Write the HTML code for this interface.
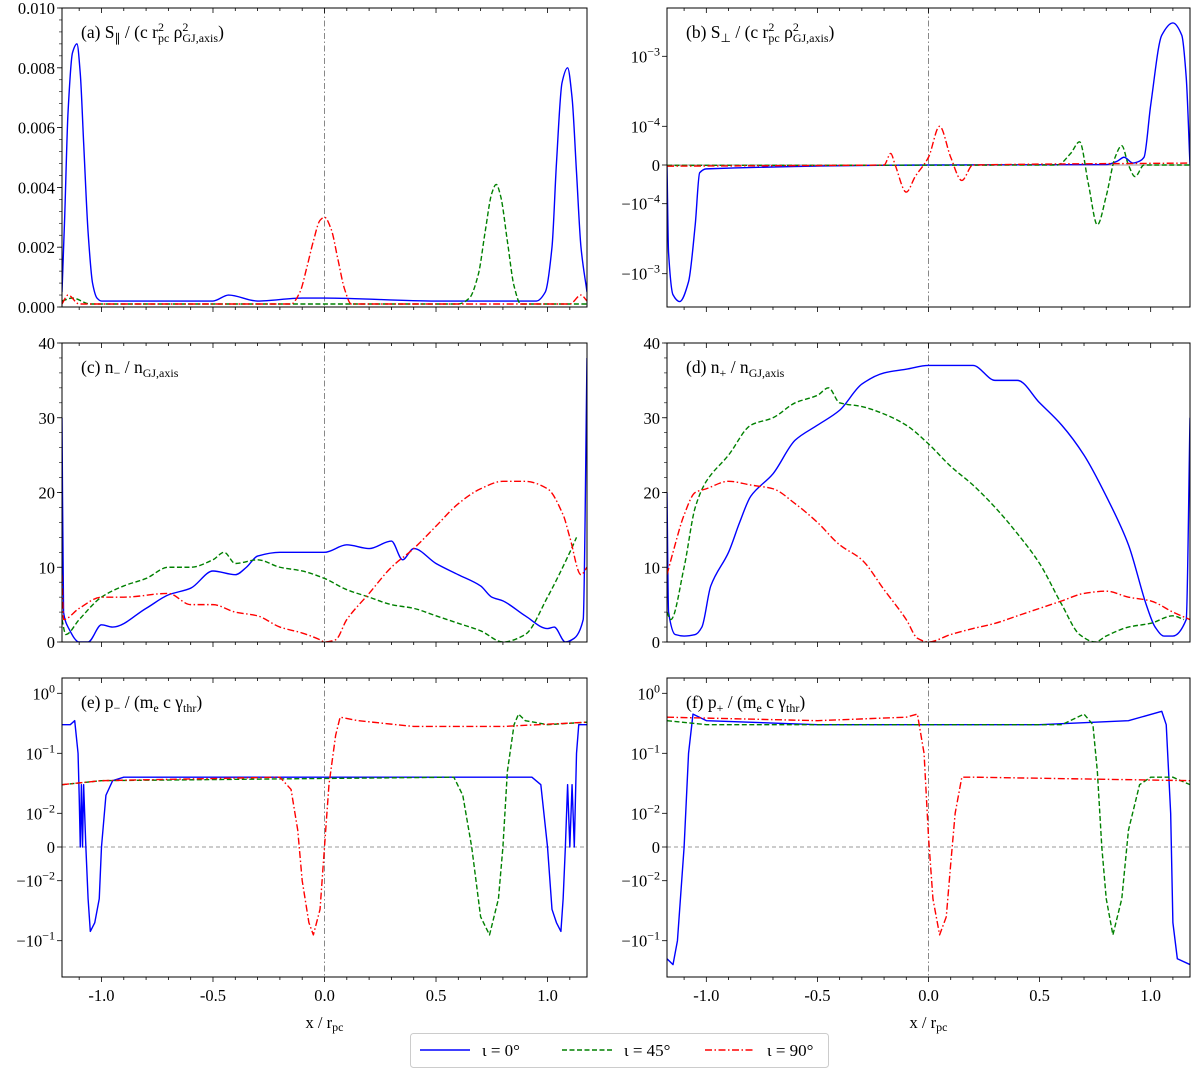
<!DOCTYPE html>
<html><head><meta charset="utf-8"><style>
body{margin:0;background:#fff}
svg{display:block;font-family:"Liberation Serif",serif}
</style></head><body>
<svg id="fig" width="1200" height="1069" viewBox="0 0 1200 1069" xmlns="http://www.w3.org/2000/svg"></svg>
<script>
// ---- data: [x, value] pairs per series ----
const aBlue=[[-1.177,0.0005],[-1.165,0.003],[-1.15,0.0065],[-1.13,0.0085],[-1.11,0.0088],[-1.095,0.0078],[-1.08,0.0055],[-1.06,0.0025],[-1.04,0.0008],[-1.02,0.0003],[-1.0,0.0002],[-0.5,0.0002],[-0.43,0.0004],[-0.3,0.0002],[-0.1,0.0003],[0,0.0003],[0.5,0.0002],[0.95,0.0002],[0.99,0.0005],[1.02,0.002],[1.04,0.0048],[1.065,0.0075],[1.09,0.008],[1.11,0.007],[1.13,0.0045],[1.15,0.002],[1.177,0.0005]];
const aGreen=[[-1.177,0.0002],[-1.13,0.0003],[-1.05,0.0001],[0.6,0.0001],[0.65,0.0003],[0.69,0.0011],[0.72,0.0025],[0.75,0.0038],[0.77,0.0041],[0.79,0.0037],[0.82,0.0022],[0.85,0.0007],[0.88,0.0001],[1.177,0.0001]];
const aRed=[[-1.177,0.0001],[-1.15,0.0004],[-1.1,0.0001],[-0.15,0.0001],[-0.11,0.0005],[-0.08,0.0013],[-0.05,0.0022],[-0.02,0.0029],[0,0.003],[0.03,0.0026],[0.06,0.0016],[0.09,0.0006],[0.12,0.0001],[1.1,0.0001],[1.15,0.0004],[1.177,0.0002]];
const bBlue=[[-1.177,0],[-1.17,-5e-4],[-1.15,-2e-3],[-1.12,-2.5e-3],[-1.08,-1.3e-3],[-1.05,-2e-4],[-1.03,-2e-5],[-1.0,-1e-5],[0,0],[0.8,1e-6],[0.85,1e-5],[0.88,2e-5],[0.92,5e-6],[0.95,1e-5],[0.97,2e-5],[1.0,2e-4],[1.05,2e-3],[1.1,3e-3],[1.14,2e-3],[1.16,5e-4],[1.177,0]];
const bGreen=[[-1.177,-1e-6],[0.58,0],[0.64,3e-5],[0.68,6e-5],[0.72,-5e-5],[0.76,-2e-4],[0.8,-8e-5],[0.84,2e-5],[0.87,5e-5],[0.9,0],[0.93,-3e-5],[0.97,0],[1.177,0]];
const bRed=[[-1.177,-3e-6],[-0.2,0],[-0.17,3e-5],[-0.15,0],[-0.1,-7e-5],[-0.06,-3e-5],[0,2e-5],[0.05,1e-4],[0.1,2e-5],[0.15,-4e-5],[0.2,0],[1.177,5e-6]];
const cBlue=[[-1.177,30],[-1.17,4],[-1.15,2],[-1.1,0],[-1.06,0],[-1.0,2.3],[-0.95,2],[-0.8,4.5],[-0.7,6.3],[-0.6,7.2],[-0.5,9.5],[-0.4,9],[-0.35,10],[-0.3,11.5],[-0.2,12],[-0.1,12],[0,12],[0.1,13],[0.2,12.5],[0.3,13.5],[0.35,11],[0.4,12.5],[0.5,10.5],[0.6,9],[0.7,7.5],[0.75,6],[0.8,5.5],[0.9,3.5],[1.0,1.8],[1.03,2],[1.08,0],[1.12,0.5],[1.16,3],[1.177,38]];
const cGreen=[[-1.177,3],[-1.16,1],[-1.1,3],[-1.0,6],[-0.9,7.5],[-0.8,8.5],[-0.7,10],[-0.6,10],[-0.5,11],[-0.45,12],[-0.4,10.5],[-0.3,11],[-0.2,10],[-0.1,9.5],[0,8.5],[0.1,7],[0.2,6],[0.3,5],[0.4,4.5],[0.5,3.5],[0.6,2.5],[0.7,1.5],[0.8,0],[0.9,1],[1.0,6],[1.1,12],[1.13,14]];
const cRed=[[-1.177,9],[-1.17,3],[-1.1,4.5],[-1.0,6],[-0.9,6],[-0.7,6.5],[-0.6,5],[-0.5,5],[-0.4,4],[-0.3,3.5],[-0.2,2],[-0.1,1.2],[-0.02,0.3],[0,0],[0.05,0.3],[0.1,3],[0.2,6.5],[0.3,10],[0.4,12.5],[0.5,15.5],[0.6,18.5],[0.7,20.5],[0.8,21.5],[0.9,21.5],[1.0,20.5],[1.07,17],[1.1,14],[1.15,9],[1.177,10]];
const dBlue=[[-1.177,20],[-1.17,4],[-1.14,1],[-1.1,0.8],[-1.05,1],[-1.02,2],[-0.98,7.5],[-0.9,12],[-0.85,16],[-0.8,19.5],[-0.7,22.5],[-0.6,27],[-0.5,29],[-0.4,31],[-0.3,34.5],[-0.2,36],[-0.1,36.5],[0,37],[0.1,37],[0.2,37],[0.3,35],[0.4,35],[0.5,32],[0.6,29],[0.7,25],[0.8,19.5],[0.9,13],[0.98,5],[1.02,2],[1.06,0.8],[1.1,0.8],[1.16,3],[1.177,30]];
const dGreen=[[-1.177,4],[-1.16,3],[-1.1,10],[-1.05,18],[-1.0,21.5],[-0.9,25],[-0.8,29],[-0.7,30],[-0.6,32],[-0.5,33],[-0.45,34],[-0.4,32],[-0.3,31.5],[-0.2,30.5],[-0.1,29],[0,26.5],[0.1,23.5],[0.2,21],[0.3,18],[0.4,14.5],[0.5,10.5],[0.6,5],[0.68,1],[0.75,0],[0.8,0.8],[0.9,2],[1.0,2.5],[1.1,3.5],[1.15,3]];
const dRed=[[-1.177,9],[-1.15,12],[-1.1,17],[-1.05,20],[-1.0,20.5],[-0.9,21.5],[-0.8,21],[-0.7,20.5],[-0.6,18.5],[-0.5,16],[-0.4,13],[-0.3,11],[-0.2,7],[-0.1,3],[-0.05,0.5],[0,0],[0.1,1],[0.2,1.8],[0.3,2.5],[0.4,3.5],[0.5,4.5],[0.6,5.5],[0.7,6.5],[0.8,6.8],[0.9,6],[1.0,5.5],[1.1,4],[1.177,3]];
const eBlue=[[-1.177,0.3],[-1.14,0.3],[-1.12,0.35],[-1.105,0.1],[-1.1,0.02],[-1.095,0],[-1.09,0.03],[-1.085,0],[-1.08,0.03],[-1.07,0],[-1.06,-0.02],[-1.05,-0.07],[-1.03,-0.05],[-1.01,-0.02],[-1.0,0],[-0.98,0.02],[-0.95,0.035],[-0.9,0.04],[-0.5,0.04],[0,0.04],[0.5,0.04],[0.93,0.04],[0.97,0.03],[1.0,0],[1.02,-0.03],[1.04,-0.05],[1.06,-0.07],[1.07,-0.02],[1.08,0],[1.09,0.03],[1.1,0],[1.11,0.03],[1.12,0],[1.13,0.1],[1.14,0.3],[1.16,0.3],[1.177,0.3]];
const eGreen=[[-1.177,0.03],[-1.0,0.035],[0.58,0.04],[0.62,0.02],[0.66,0],[0.7,-0.04],[0.74,-0.08],[0.78,-0.02],[0.8,0],[0.82,0.05],[0.85,0.3],[0.87,0.45],[0.9,0.35],[1.0,0.3],[1.177,0.33]];
const eRed=[[-1.177,0.03],[-1.0,0.035],[-0.2,0.04],[-0.15,0.025],[-0.12,0.005],[-0.1,-0.01],[-0.07,-0.05],[-0.05,-0.08],[-0.02,-0.03],[0,0],[0.02,0.03],[0.05,0.2],[0.07,0.4],[0.15,0.35],[0.4,0.28],[0.8,0.28],[1.177,0.33]];
const fBlue=[[-1.177,-0.2],[-1.15,-0.25],[-1.13,-0.1],[-1.1,0],[-1.08,0.1],[-1.06,0.45],[-1.0,0.35],[-0.5,0.3],[0.5,0.3],[0.9,0.35],[1.05,0.5],[1.07,0.3],[1.09,0.01],[1.1,-0.05],[1.12,-0.2],[1.177,-0.25]];
const fGreen=[[-1.177,0.35],[-1.0,0.3],[0.6,0.3],[0.7,0.45],[0.74,0.3],[0.76,0.05],[0.78,0],[0.8,-0.02],[0.83,-0.08],[0.87,-0.02],[0.9,0.005],[0.95,0.03],[1.0,0.04],[1.1,0.04],[1.177,0.03]];
const fRed=[[-1.177,0.4],[-0.5,0.35],[-0.1,0.4],[-0.05,0.45],[-0.02,0.1],[0,0.003],[0.02,-0.02],[0.05,-0.08],[0.08,-0.04],[0.1,-0.005],[0.12,0.01],[0.15,0.04],[0.2,0.04],[1.177,0.035]];
const xTicks=[-1.0,-0.5,0.0,0.5,1.0];
const linTicksA=[0,0.002,0.004,0.006,0.008,0.010];
const linTicksN=[0,10,20,30,40];

const NS="http://www.w3.org/2000/svg";
const svg=document.getElementById('fig');
function el(tag,attrs,parent){const e=document.createElementNS(NS,tag);for(const k in attrs)e.setAttribute(k,attrs[k]);(parent||svg).appendChild(e);return e;}
const XMIN=-1.177,XMAX=1.177;
const rows=[[8,307],[343,642],[678,977]];
const cols=[[62,587],[667,1190]];
function symlog(t,L,D){return v=>{const a=Math.abs(v);const s=a<t?a/t*L:L+Math.log10(a/t)*D;return v<0?-s:s;};}
// monotone cubic (Fritsch-Carlson) path in pixel space
function smoothPath(P){
 const n=P.length,d=[],m=[];
 for(let i=0;i<n-1;i++)d.push((P[i+1][1]-P[i][1])/(P[i+1][0]-P[i][0]));
 for(let i=0;i<n;i++){
  if(i===0)m.push(d[0]);else if(i===n-1)m.push(d[n-2]);
  else if(d[i-1]*d[i]<=0)m.push(0);
  else m.push(2/(1/d[i-1]+1/d[i]));
 }
 let s='M'+P[0][0].toFixed(2)+','+P[0][1].toFixed(2);
 for(let i=0;i<n-1;i++){
  const h=(P[i+1][0]-P[i][0])/3;
  s+='C'+(P[i][0]+h).toFixed(2)+','+(P[i][1]+m[i]*h).toFixed(2)+' '+(P[i+1][0]-h).toFixed(2)+','+(P[i+1][1]-m[i+1]*h).toFixed(2)+' '+P[i+1][0].toFixed(2)+','+P[i+1][1].toFixed(2);
 }
 return s;
}

const panels=[
 {id:'a',c:0,r:0,type:'lin',min:0,max:0.01,smooth:true,series:[aBlue,aGreen,aRed]},
 {id:'b',c:1,r:0,type:'sym',t:1e-4,L:38.7,D:70,zero:165,smooth:true,series:[bBlue,bGreen,bRed]},
 {id:'c',c:0,r:1,type:'lin',min:0,max:40,smooth:true,series:[cBlue,cGreen,cRed]},
 {id:'d',c:1,r:1,type:'lin',min:0,max:40,smooth:true,series:[dBlue,dGreen,dRed]},
 {id:'e',c:0,r:2,type:'sym',t:1e-2,L:33.7,D:60,zero:847,smooth:false,series:[eBlue,eGreen,eRed]},
 {id:'f',c:1,r:2,type:'sym',t:1e-2,L:33.7,D:60,zero:847,smooth:false,series:[fBlue,fGreen,fRed]},
];
const colors=['#0000ff','#008000','#ff0000'];
const dashes=['none','5,2.5','7,2.5,1.5,2.5'];
const names=['iota-0','iota-45','iota-90'];

panels.forEach(p=>{
 const [x0,x1]=cols[p.c],[y0,y1]=rows[p.r];
 const g=el('g',{});
 
 
 const xs=v=>x0+(v-XMIN)/(XMAX-XMIN)*(x1-x0);
 let ys;
 if(p.type==='lin') ys=v=>y1-(v-p.min)/(p.max-p.min)*(y1-y0);
 else {const f=symlog(p.t,p.L,p.D); ys=v=>p.zero-f(v);}
 const cid='clip'+p.id;
 const cp=el('clipPath',{id:cid},g);el('rect',{x:x0,y:y0,width:x1-x0,height:y1-y0},cp);
 const vl=el('line',{x1:xs(0),x2:xs(0),y1:y0,y2:y1,stroke:'#888','stroke-width':1,'stroke-dasharray':'6,2.5,1.5,2.5'},g);
 
 
 if(p.type==='sym'){
  const hl=el('line',{x1:x0,x2:x1,y1:ys(0),y2:ys(0),stroke:'#999','stroke-width':1,'stroke-dasharray':p.id==='b'?'none':'4,3'},g);
  
  
 }
 p.series.forEach((s,i)=>{
  const P=s.map(pt=>[xs(pt[0]),ys(pt[1])]);
  const d=p.smooth?smoothPath(P):P.map((q,k)=>(k?'L':'M')+q[0].toFixed(2)+','+q[1].toFixed(2)).join('');
  const path=el('path',{d:d,fill:'none',stroke:colors[i],'stroke-width':1.4,'stroke-dasharray':dashes[i],'clip-path':'url(#'+cid+')','stroke-linejoin':'round'},g);
  
  
 });
 const fr=el('rect',{x:x0,y:y0,width:x1-x0,height:y1-y0,fill:'none',stroke:'#000','stroke-width':1},g);
 
 
 for(let k=-11;k<=11;k++){const v=k/10;const X=xs(v);const major=(k%5===0);
  el('line',{x1:X,x2:X,y1:y1,y2:y1+(major?5:3),stroke:'#000','stroke-width':0.8},g);
  el('line',{x1:X,x2:X,y1:y0,y2:y0+(major?5:3),stroke:'#000','stroke-width':0.8},g);}
 if(p.r===2){xTicks.forEach(v=>{const t=el('text',{x:xs(v),y:1001,'font-size':16.5,'text-anchor':'middle'},g);t.textContent=v.toFixed(1);
  
  });
  const xl=el('text',{x:(x0+x1)/2,y:1028,'font-size':16.5,'text-anchor':'middle'},g);
  
  
  xl.innerHTML='x / r<tspan font-size="12" dy="3">pc</tspan>';}
 if(p.type==='lin'){
  const ticks=p.id==='a'?linTicksA:linTicksN;
  ticks.forEach(v=>{const Y=ys(v);el('line',{x1:x0-5,x2:x0,y1:Y,y2:Y,stroke:'#000','stroke-width':0.8},g);
   const t=el('text',{x:x0-7,y:Y+6,'font-size':16.5,'text-anchor':'end'},g);t.textContent=p.id==='a'?v.toFixed(3):String(v);
   
   });
  const step=(ticks[1]-ticks[0])/5;
  for(let v=p.min;v<=p.max+1e-12;v+=step){const Y=ys(v);el('line',{x1:x0-3,x2:x0,y1:Y,y2:Y,stroke:'#000','stroke-width':0.6},g);}
 } else {
  const exps=p.id==='b'?[-3,-4]:[0,-1,-2];
  const lab=[];exps.forEach(e=>lab.push([Math.pow(10,e),e,1]));lab.push([0,null,0]);exps.slice().reverse().forEach(e=>lab.push([-Math.pow(10,e),e,-1]));
  lab.forEach(([v,e,s])=>{const Y=ys(v);if(Y<y0-2||Y>y1+2)return;
   el('line',{x1:x0-5,x2:x0,y1:Y,y2:Y,stroke:'#000','stroke-width':0.8},g);
   const t=el('text',{x:x0-7,y:Y+6,'font-size':16.5,'text-anchor':'end'},g);
   
   
   if(e===null)t.textContent='0';else t.innerHTML=(s<0?'−':'')+'10<tspan font-size="12" dy="-7">'+(e<0?'−'+(-e):e)+'</tspan>';});
 }
 const tt=el('text',{x:x0+19,y:y0+30,'font-size':17.5},g);
 
 
 const titles={
  a:'(a) S<tspan font-size="12" dy="4">∥</tspan><tspan dy="-4"> / (c r</tspan><tspan font-size="12" dy="-7">2</tspan><tspan font-size="12" dx="-6" dy="11">pc</tspan><tspan dy="-4"> ρ</tspan><tspan font-size="12" dy="-7">2</tspan><tspan font-size="12" dx="-6" dy="11">GJ,axis</tspan><tspan dy="-4">)</tspan>',
  b:'(b) S<tspan font-size="12" dy="4">⊥</tspan><tspan dy="-4"> / (c r</tspan><tspan font-size="12" dy="-7">2</tspan><tspan font-size="12" dx="-6" dy="11">pc</tspan><tspan dy="-4"> ρ</tspan><tspan font-size="12" dy="-7">2</tspan><tspan font-size="12" dx="-6" dy="11">GJ,axis</tspan><tspan dy="-4">)</tspan>',
  c:'(c) n<tspan font-size="12" dy="4">−</tspan><tspan dy="-4"> / n</tspan><tspan font-size="12" dy="4">GJ,axis</tspan>',
  d:'(d) n<tspan font-size="12" dy="4">+</tspan><tspan dy="-4"> / n</tspan><tspan font-size="12" dy="4">GJ,axis</tspan>',
  e:'(e) p<tspan font-size="12" dy="4">−</tspan><tspan dy="-4"> / (m</tspan><tspan font-size="12" dy="4">e</tspan><tspan dy="-4"> c γ</tspan><tspan font-size="12" dy="4">thr</tspan><tspan dy="-4">)</tspan>',
  f:'(f) p<tspan font-size="12" dy="4">+</tspan><tspan dy="-4"> / (m</tspan><tspan font-size="12" dy="4">e</tspan><tspan dy="-4"> c γ</tspan><tspan font-size="12" dy="4">thr</tspan><tspan dy="-4">)</tspan>'
 };
 tt.innerHTML=titles[p.id];
});

const lg=el('g',{});


el('rect',{x:410.5,y:1033.5,width:418,height:34,rx:3,fill:'#fff',stroke:'#ccc','stroke-width':1},lg);
const legLabels=['ι = 0°','ι = 45°','ι = 90°'];
[420,562,705].forEach((lx,i)=>{
 const l=el('line',{x1:lx,x2:lx+50,y1:1050,y2:1050,stroke:colors[i],'stroke-width':1.4,'stroke-dasharray':dashes[i]},lg);
 
 
 const t=el('text',{x:lx+62,y:1056,'font-size':17},lg);
 t.textContent=legLabels[i];
 
 
});
</script>
</body></html>
